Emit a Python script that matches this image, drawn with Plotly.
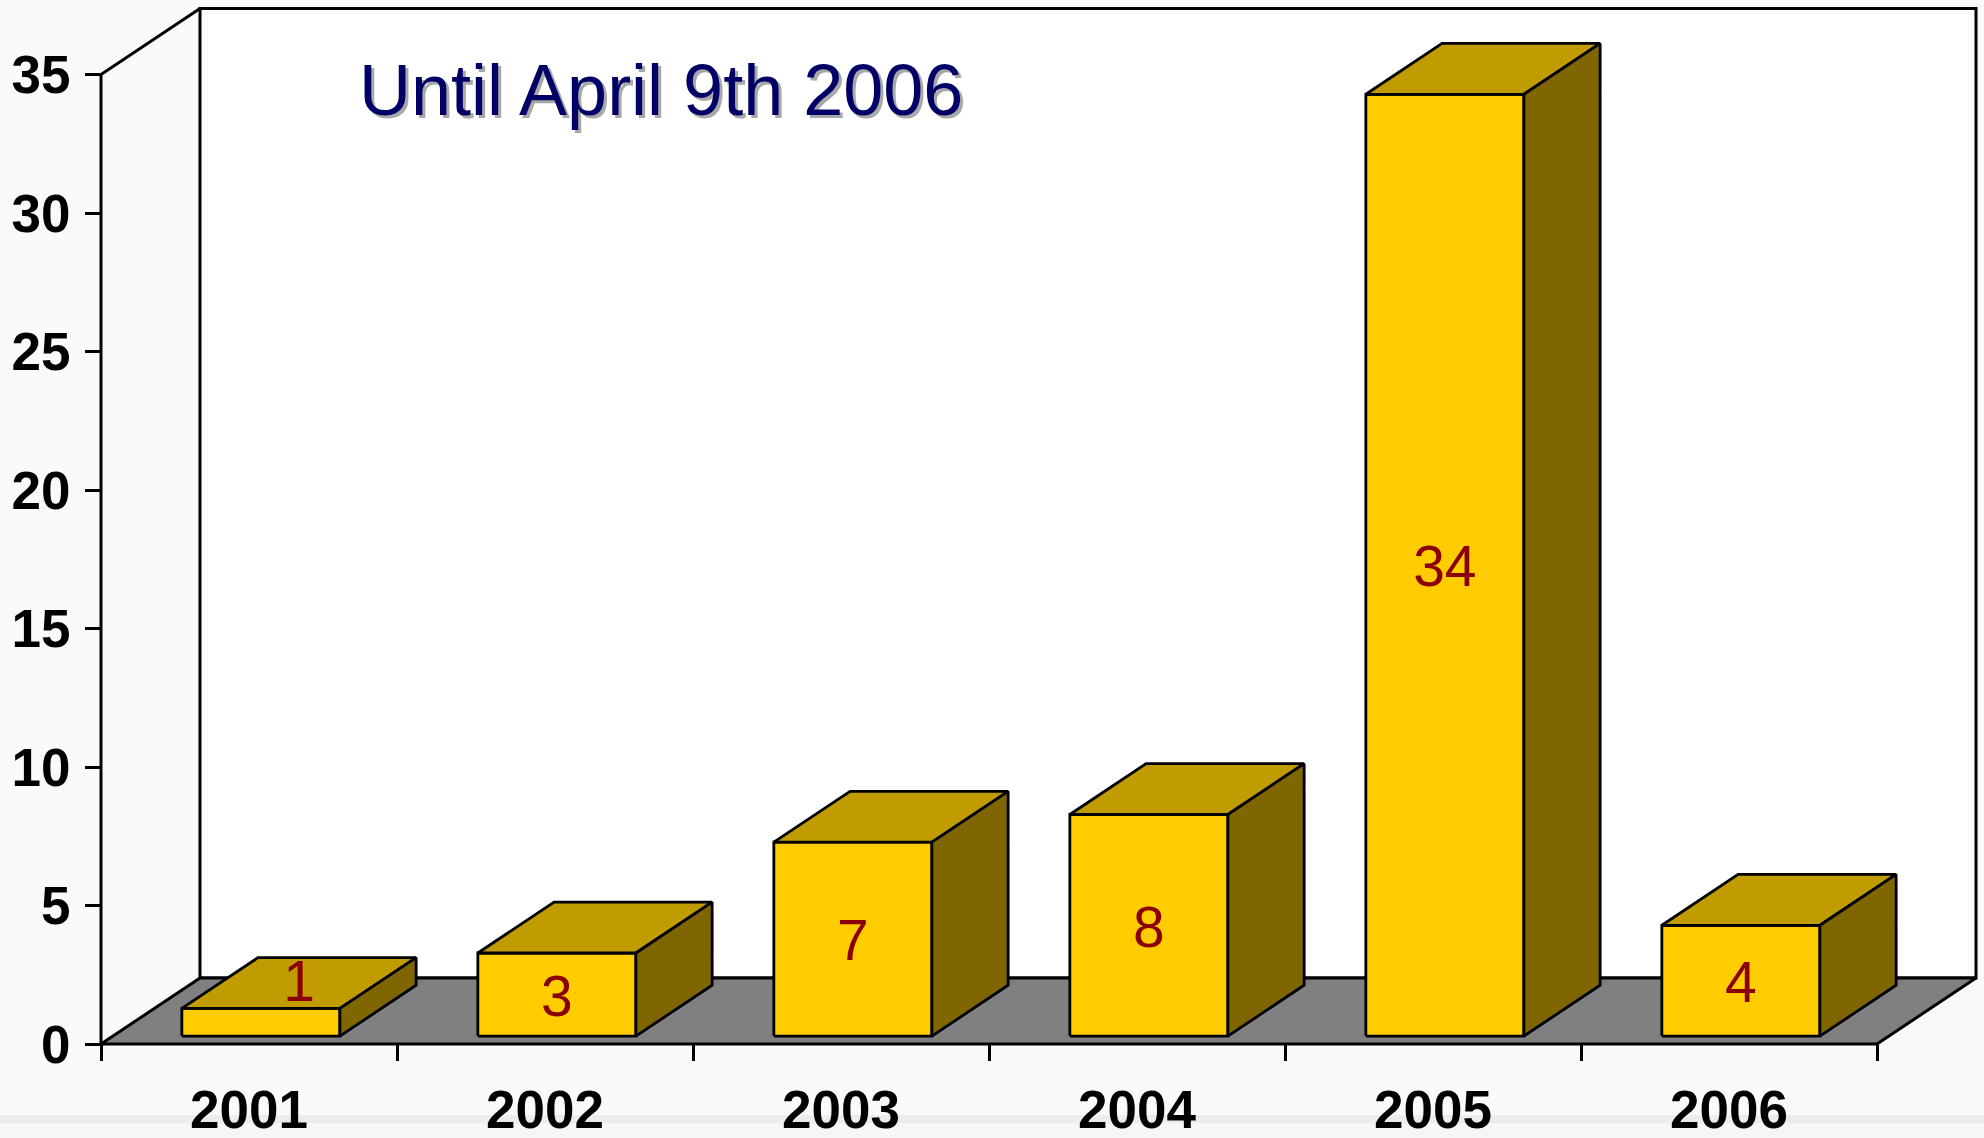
import plotly.graph_objects as go

# ---- data ----
years = ["2001", "2002", "2003", "2004", "2005", "2006"]
counts = [1, 3, 7, 8, 34, 4]
y_ticks = [0, 5, 10, 15, 20, 25, 30, 35]
title_text = "Until April 9th 2006"

# ---- geometry / style (in axis units) ----
W, H = 1984, 1138
PX_CAT = 296.0          # pixels per category
PX_VAL = 27.7           # pixels per value unit
X0_PX = 101.0           # pixel of left axis
Y0_PX = 1044.0          # pixel of value 0
DEPTH_X = 99.0 / PX_CAT  # depth offset in category units
DEPTH_Y = 66.0 / PX_VAL  # depth offset in value units
BAR_W = 0.534
F0, F1 = 0.12, 0.89      # bar depth start / end fractions
LABEL_DROP = 7.0 / PX_VAL
YMAX = y_ticks[-1]

FRONT = "#FFCC00"
TOP = "#C09C00"
SIDE = "#806600"
FLOOR = "#808080"
LINE = "black"

x_lo = -0.5 - X0_PX / PX_CAT
x_hi = -0.5 + (W - X0_PX) / PX_CAT
y_lo = -(H - Y0_PX) / PX_VAL
y_hi = Y0_PX / PX_VAL

n = len(years)
left, right = -0.5, n - 0.5

fig = go.Figure()


def poly(xs, ys, fill, width=2.8):
    fig.add_trace(go.Scatter(
        x=xs + [xs[0]], y=ys + [ys[0]], mode="lines", fill="toself",
        fillcolor=fill, line=dict(color=LINE, width=width),
        hoverinfo="skip", showlegend=False))


# back wall
poly([left + DEPTH_X, left + DEPTH_X, right + DEPTH_X, right + DEPTH_X],
     [DEPTH_Y, YMAX + DEPTH_Y, YMAX + DEPTH_Y, DEPTH_Y], "white", 3)
# floor
poly([left, right, right + DEPTH_X, left + DEPTH_X],
     [0, 0, DEPTH_Y, DEPTH_Y], FLOOR, 3)
# front value axis line and its top diagonal
fig.add_trace(go.Scatter(
    x=[left, left, left + DEPTH_X], y=[0, YMAX, YMAX + DEPTH_Y],
    mode="lines", line=dict(color=LINE, width=3),
    hoverinfo="skip", showlegend=False))

# bars
lab_x, lab_y = [], []
ddx, ddy = (F1 - F0) * DEPTH_X, (F1 - F0) * DEPTH_Y
for i, v in enumerate(counts):
    x0 = i - BAR_W / 2 + F0 * DEPTH_X
    x1 = i + BAR_W / 2 + F0 * DEPTH_X
    yb = F0 * DEPTH_Y
    yt = v + yb
    poly([x0, x1, x1, x0], [yb, yb, yt, yt], FRONT)
    poly([x0, x1, x1 + ddx, x0 + ddx], [yt, yt, yt + ddy, yt + ddy], TOP)
    poly([x1, x1 + ddx, x1 + ddx, x1], [yb, yb + ddy, yt + ddy, yt], SIDE)
    if v >= 2:
        lab_x.append((x0 + x1) / 2)
        lab_y.append(yb + v / 2 - LABEL_DROP)
    else:
        lab_x.append((x0 + x1) / 2 + ddx / 2)
        lab_y.append(yt + ddy / 2 - LABEL_DROP / 2)

fig.add_trace(go.Scatter(
    x=lab_x, y=lab_y, mode="text", text=[str(c) for c in counts],
    textposition="middle center",
    textfont=dict(family="Liberation Sans, Arial, sans-serif",
                  size=57, color="#8B0000"),
    hoverinfo="skip", showlegend=False))

tick_font = dict(family="Liberation Sans, Arial, sans-serif", size=53,
                 color="black", weight="bold")

fig.update_layout(
    width=W, height=H,
    margin=dict(l=0, r=0, t=0, b=0),
    paper_bgcolor="#fafafa",
    plot_bgcolor="rgba(0,0,0,0)",
    xaxis=dict(
        range=[x_lo, x_hi], anchor="free", position=(H - Y0_PX) / H,
        tickvals=list(range(n)), ticktext=years, ticks="",
        tickfont=tick_font, ticklabelstandoff=30,
        minor=dict(tickvals=[k - 0.5 for k in range(n + 1)], ticks="outside",
                   ticklen=16, tickwidth=3, tickcolor=LINE),
        showgrid=False, zeroline=False, showline=False, fixedrange=True),
    yaxis=dict(
        range=[y_lo, y_hi], anchor="free", position=X0_PX / W,
        tickvals=y_ticks, ticks="outside", ticklen=16, tickwidth=3,
        tickcolor=LINE, tickfont=tick_font, ticklabelstandoff=4,
        showgrid=False, zeroline=False, showline=False, fixedrange=True),
    shapes=[
        dict(type="rect", xref="paper", yref="paper", x0=0, x1=1,
             y0=0, y1=(H - 1123) / H, fillcolor="#f6f6f6", line_width=0,
             layer="below"),
        dict(type="rect", xref="paper", yref="paper", x0=0, x1=1,
             y0=(H - 1123) / H, y1=(H - 1115) / H, fillcolor="#ececec",
             line_width=0, layer="below"),
    ],
)

title_font = dict(family="Liberation Sans, Arial, sans-serif", size=72)
tx, ty = 661 / W, 1 - 90 / H
fig.add_annotation(x=tx, y=ty, xref="paper", yref="paper", text=title_text,
                   showarrow=False, xanchor="center", yanchor="middle",
                   xshift=3, yshift=-3,
                   font=dict(color="#A8A8A8", **title_font))
fig.add_annotation(x=tx, y=ty, xref="paper", yref="paper", text=title_text,
                   showarrow=False, xanchor="center", yanchor="middle",
                   font=dict(color="#000066", **title_font))

fig.write_html("out.html",
               config={"displayModeBar": False},
               post_script="document.body.style.margin='0px';"
                           "document.body.style.overflow='hidden';")
